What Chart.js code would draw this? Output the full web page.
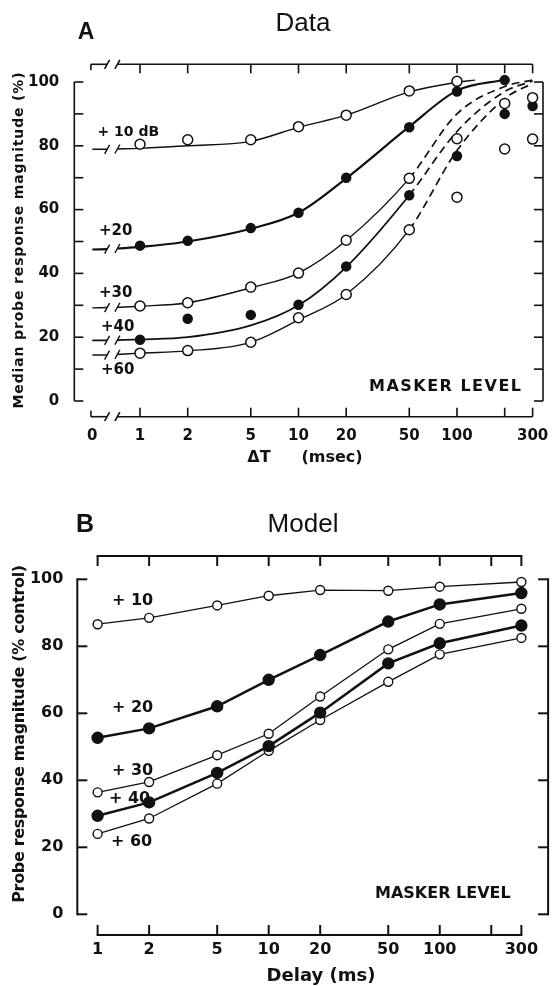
<!DOCTYPE html>
<html>
<head>
<meta charset="utf-8">
<script src="https://cdn.jsdelivr.net/npm/chart.js@4.4.1/dist/chart.umd.min.js"></script>
<style>
  html, body { margin: 0; padding: 0; background: #fff; }
  #wrapA { position: absolute; left: 0; top: 0; width: 555px; height: 485px; }
  #wrapB { position: absolute; left: 0; top: 485px; width: 555px; height: 501px; }
</style>
</head>
<body>
<div id="wrapA"><canvas id="chartA" width="555" height="485"></canvas></div>
<div id="wrapB"><canvas id="chartB" width="555" height="501"></canvas></div>
<script>
// ---------- Panel A: measured data ----------
const delays = [1, 2, 5, 10, 20, 50, 100, 200, 300];
const dataP10 = [80.5, 81.9, 81.9, 86.0, 89.6, 97.2, 100.2, null, null];
const dataP20 = [48.7, 50.2, 54.2, 59.0, 70.0, 85.8, 97.0, 100.6, null];
const dataP30 = [29.8, 30.8, 35.7, 40.1, 50.4, 69.8, 82.2, 93.3, 95.1];
const dataP40 = [19.2, 25.8, 27.0, 30.2, 42.2, 64.5, 76.8, 90.0, 92.5];
const dataP60 = [15.0, 15.8, 18.4, 26.1, 33.4, 53.7, 63.9, 79.0, 82.1];

// fitted curves (null = axis break, undefined = not drawn there)
const fitX   = [0.5, 0.62, 0.67, 0.72, 1, 2, 5, 10, 20, 50, 100, 130, 200, 300];
const fitP10 = [78.9, 78.9, null, 79.0, 79.2, 80.0, 81.4, 85.8, 89.6, 96.9, 99.9, 100.6, undefined, undefined];
const fitP20 = [47.5, 47.6, null, 47.8, 48.3, 50.0, 54.0, 59.0, 69.8, 86.0, 97.3, undefined, 100.7, undefined];
const fitP30 = [29.2, 29.3, null, 29.4, 29.7, 30.8, 35.5, 40.1, 50.3, 69.8, 90.0, undefined, 98.6, 100.6];
const fitP40 = [19.0, 19.0, null, 19.1, 19.3, 20.0, 23.7, 30.0, 42.0, 64.5, 84.5, undefined, 97.0, 100.3];
const fitP60 = [14.4, 14.4, null, 14.6, 15.0, 15.7, 18.4, 25.4, 33.4, 53.7, 78.5, undefined, 94.8, 99.6];

const dataXTicks  = [0.5, 1, 2, 5, 10, 20, 50, 100, 300];
const dataXLabels = ['0', '1', '2', '5', '10', '20', '50', '100', '300'];
const tickMarksX  = [1, 2, 5, 10, 20, 50, 100, 200, 300];
const yTickVals   = [0, 20, 40, 60, 80, 100];
const yMarksA     = [0, 10, 20, 30, 40, 50, 60, 70, 80, 90, 100];

// ---------- Panel B: model ----------
const modelX   = [1, 2, 5, 10, 20, 50, 100, 300];
const model10  = [86.6, 88.5, 92.2, 95.1, 96.8, 96.6, 97.8, 99.2];
const model20  = [52.7, 55.5, 62.1, 70.0, 77.4, 87.4, 92.5, 95.9];
const model30  = [36.4, 39.5, 47.5, 53.9, 65.0, 79.1, 86.7, 91.2];
const model40  = [29.4, 33.4, 42.2, 50.2, 60.2, 74.9, 80.9, 86.2];
const model60  = [24.0, 28.6, 39.0, 48.8, 58.0, 69.4, 77.6, 82.5];
const modelXLabels = ['1', '2', '5', '10', '20', '50', '100', '300'];

const ink = '#111';
const AXIS_START = 0.49, BREAK_LO = 0.62, BREAK_HI = 0.72;

function pts(xs, ys) {
  const out = [];
  xs.forEach((x, i) => { if (ys[i] !== undefined) out.push({ x, y: ys[i] }); });
  return out;
}
function line(ctx, x1, y1, x2, y2) {
  ctx.beginPath(); ctx.moveTo(x1, y1); ctx.lineTo(x2, y2); ctx.stroke();
}
function slash(ctx, x, y) { line(ctx, x - 2.5, y + 4.5, x + 2.5, y - 4.5); }
function fitSpacing(ctx, text, width) {
  ctx.letterSpacing = '0px';
  const w = ctx.measureText(text).width;
  ctx.letterSpacing = ((width - w) / (text.length - 1)) + 'px';
}
function label(ctx, text, x, y, font, align) {
  ctx.font = font; ctx.letterSpacing = '0px';
  ctx.textAlign = align || 'left'; ctx.textBaseline = 'middle';
  ctx.fillText(text, x, y);
}
const dashAfter50 = {
  borderDash: c => (c.p0.parsed.x >= 50 ? [8, 5] : undefined),
  borderWidth: c => (c.p0.parsed.x >= 50 ? 1.7 : undefined)
};

// ---------- Panel A ----------
const dataFrame = {
  id: 'dataFrame',
  afterDraw(chart) {
    const { ctx, chartArea: a, scales: { x, y } } = chart;
    ctx.save();
    ctx.strokeStyle = ink; ctx.fillStyle = ink; ctx.lineWidth = 1.6;
    const x0 = x.getPixelForValue(AXIS_START), xb1 = x.getPixelForValue(BREAK_LO),
          xb2 = x.getPixelForValue(BREAK_HI), xEnd = x.getPixelForValue(300);
    [[a.top, 1], [a.bottom, -1]].forEach(([yy, dir]) => {
      line(ctx, x0, yy, xb1, yy); line(ctx, xb2, yy, xEnd, yy);
      line(ctx, x0, yy, x0, yy + dir * 6);
      slash(ctx, xb1, yy); slash(ctx, xb2, yy);
      tickMarksX.forEach(v => { const px = x.getPixelForValue(v); line(ctx, px, yy, px, yy + dir * 9); });
    });
    const yTop = y.getPixelForValue(100), yBot = y.getPixelForValue(0);
    [[a.left, 1], [a.right, -1]].forEach(([xx, dir]) => {
      line(ctx, xx, yTop, xx, yBot);
      yMarksA.forEach(v => { const py = y.getPixelForValue(v); line(ctx, xx, py, xx + dir * 9, py); });
    });
    // breaks on the fitted curves
    ctx.lineWidth = 1.4;
    [fitP10, fitP20, fitP30, fitP40, fitP60].forEach(f => {
      slash(ctx, xb1, y.getPixelForValue(f[1]));
      slash(ctx, xb2, y.getPixelForValue(f[3]));
    });

    label(ctx, 'A', 86, 33, 'bold 23px "Liberation Sans"', 'center');
    label(ctx, 'Data', 303, 24, '26px "Liberation Sans"', 'center');

    const f15 = 'bold 15px "DejaVu Sans"';
    label(ctx, '+ 10 dB', 97.5, 132, 'bold 14px "DejaVu Sans"');
    label(ctx, '+20', 99, 231, f15);
    label(ctx, '+30', 99, 293, f15);
    label(ctx, '+40', 101, 327, f15);
    label(ctx, '+60', 101, 370, f15);

    ctx.font = 'bold 16px "DejaVu Sans"'; ctx.textAlign = 'left'; ctx.textBaseline = 'middle';
    fitSpacing(ctx, 'MASKER LEVEL', 152);
    ctx.fillText('MASKER LEVEL', 369, 387);

    label(ctx, 'ΔT', 259, 458, 'bold 16px "DejaVu Sans"', 'center');
    label(ctx, '(msec)', 332, 458, 'bold 16px "DejaVu Sans"', 'center');

    ctx.translate(19.5, 240); ctx.rotate(-Math.PI / 2);
    ctx.font = 'bold 14px "DejaVu Sans"'; ctx.textAlign = 'center';
    fitSpacing(ctx, 'Median probe response magnitude (%)', 336);
    ctx.fillText('Median probe response magnitude (%)', 0, 0);
    ctx.restore();
  }
};

function pointSet(ys, filled) {
  return {
    data: pts(delays, ys).filter(p => p.y !== null),
    showLine: false, order: 0,
    pointRadius: filled ? 4.5 : 5, pointBorderWidth: 1.5,
    pointBackgroundColor: filled ? ink : '#fff', pointBorderColor: ink
  };
}
function fitSet(ys, width, dashed) {
  const ds = {
    data: pts(fitX, ys), borderColor: ink, borderWidth: width,
    pointRadius: 0, pointHoverRadius: 0, cubicInterpolationMode: 'monotone',
    fill: false, order: 1
  };
  if (dashed) ds.segment = dashAfter50;
  return ds;
}

new Chart(document.getElementById('chartA'), {
  type: 'line',
  data: {
    datasets: [
      pointSet(dataP10, false), pointSet(dataP20, true), pointSet(dataP30, false),
      pointSet(dataP40, true), pointSet(dataP60, false),
      fitSet(fitP10, 1.4, false), fitSet(fitP20, 2.2, false), fitSet(fitP30, 1.4, true),
      fitSet(fitP40, 1.8, true), fitSet(fitP60, 1.4, true)
    ]
  },
  options: {
    responsive: false, animation: false,
    layout: { padding: { top: 64.3, right: 12, left: 0, bottom: 0 } },
    plugins: { legend: { display: false }, tooltip: { enabled: false } },
    scales: {
      x: {
        type: 'logarithmic', min: 0.385, max: 348.9,
        afterBuildTicks: s => { s.ticks = dataXTicks.map(v => ({ value: v })); },
        afterFit: s => { s.height = 485 - 416.7; },
        grid: { display: false }, border: { display: false },
        ticks: {
          autoSkip: false, maxRotation: 0, padding: 2, color: ink,
          font: { family: 'DejaVu Sans', weight: 'bold', size: 15 },
          callback: (v, i) => dataXLabels[i]
        }
      },
      y: {
        min: -4.92, max: 105.55,
        afterBuildTicks: s => { s.ticks = yTickVals.map(v => ({ value: v })); },
        afterFit: s => { s.width = 74.3; },
        grid: { display: false }, border: { display: false },
        ticks: { padding: 7, color: ink, font: { family: 'DejaVu Sans', weight: 'bold', size: 15 } }
      }
    }
  },
  plugins: [dataFrame]
});

// ---------- Panel B ----------
const modelFrame = {
  id: 'modelFrame',
  afterDraw(chart) {
    const { ctx, chartArea: a, scales: { x, y } } = chart;
    ctx.save();
    ctx.strokeStyle = ink; ctx.fillStyle = ink; ctx.lineWidth = 2;
    const x1 = x.getPixelForValue(1), x300 = x.getPixelForValue(300);
    [[a.top, 1], [a.bottom, -1]].forEach(([yy, dir]) => {
      line(ctx, x1 - 1, yy, x300 + 1, yy);
      tickMarksX.forEach(v => { const px = x.getPixelForValue(v); line(ctx, px, yy, px, yy + dir * 10); });
    });
    const yTop = y.getPixelForValue(100), yBot = y.getPixelForValue(0);
    [[a.left, 1], [a.right, -1]].forEach(([xx, dir]) => {
      line(ctx, xx, yTop - 1, xx, yBot + 1);
      yTickVals.forEach(v => { const py = y.getPixelForValue(v); line(ctx, xx, py, xx + dir * 10, py); });
    });

    label(ctx, 'B', 85, 40, 'bold 25px "Liberation Sans"', 'center');
    label(ctx, 'Model', 303, 40, '26px "Liberation Sans"', 'center');

    const f16 = 'bold 16px "DejaVu Sans"';
    label(ctx, '+ 10', 112, 116, f16);
    label(ctx, '+ 20', 112, 223, f16);
    label(ctx, '+ 30', 112, 286, f16);
    label(ctx, '+ 40', 109, 314, f16);
    label(ctx, '+ 60', 111, 357, f16);
    label(ctx, 'MASKER LEVEL', 375, 409, f16);
    label(ctx, 'Delay (ms)', 321, 491, 'bold 18px "DejaVu Sans"', 'center');

    ctx.translate(19.5, 249); ctx.rotate(-Math.PI / 2);
    ctx.font = 'bold 16px "DejaVu Sans"'; ctx.textAlign = 'center'; ctx.textBaseline = 'middle';
    fitSpacing(ctx, 'Probe response magnitude (% control)', 338);
    ctx.fillText('Probe response magnitude (% control)', 0, 0);
    ctx.restore();
  }
};

function modelSet(ys, filled) {
  return {
    data: pts(modelX, ys), borderColor: ink, borderWidth: filled ? 2.5 : 1.3,
    tension: 0, fill: false,
    pointRadius: filled ? 5.5 : 4.5, pointBorderWidth: 1.4,
    pointBackgroundColor: filled ? ink : '#fff', pointBorderColor: ink
  };
}

new Chart(document.getElementById('chartB'), {
  type: 'line',
  data: {
    datasets: [
      modelSet(model10, false), modelSet(model20, true), modelSet(model30, false),
      modelSet(model40, true), modelSet(model60, false)
    ]
  },
  options: {
    responsive: false, animation: false,
    layout: { padding: { top: 71, right: 5, left: 0, bottom: 0 } },
    plugins: { legend: { display: false }, tooltip: { enabled: false } },
    scales: {
      x: {
        type: 'logarithmic', min: 0.7607, max: 429.9,
        afterBuildTicks: s => { s.ticks = modelX.map(v => ({ value: v })); },
        afterFit: s => { s.height = 51; },
        grid: { display: false }, border: { display: false },
        ticks: {
          autoSkip: false, maxRotation: 0, padding: -3, color: ink,
          font: { family: 'DejaVu Sans', weight: 'bold', size: 16 },
          callback: (v, i) => modelXLabels[i]
        }
      },
      y: {
        min: -6.18, max: 106.96,
        afterBuildTicks: s => { s.ticks = yTickVals.map(v => ({ value: v })); },
        afterFit: s => { s.width = 77.3; },
        grid: { display: false }, border: { display: false },
        ticks: { padding: 6, color: ink, font: { family: 'DejaVu Sans', weight: 'bold', size: 16 } }
      }
    }
  },
  plugins: [modelFrame]
});
</script>
</body>
</html>
